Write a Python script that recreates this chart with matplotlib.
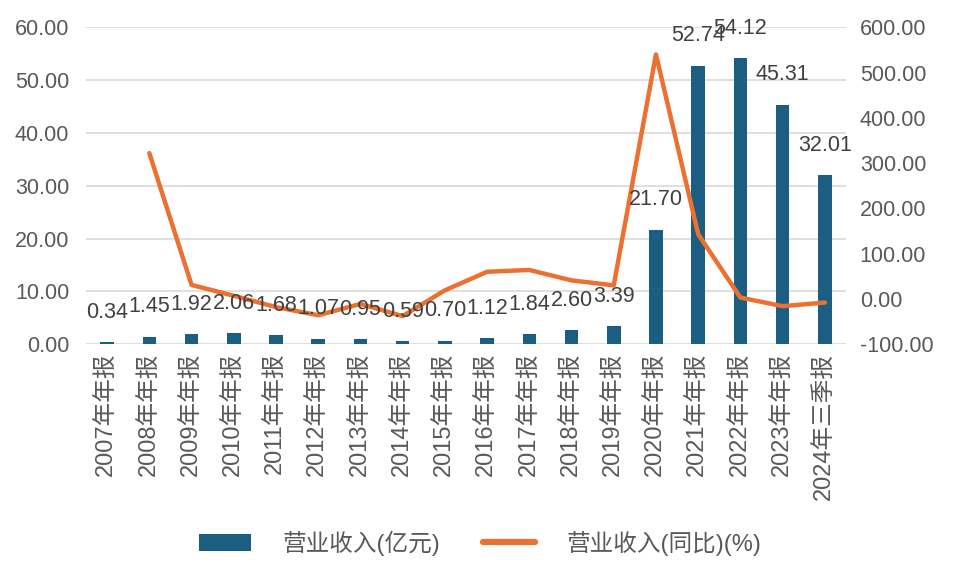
import matplotlib
matplotlib.use('Agg')
import matplotlib.pyplot as plt
import numpy as np

plt.rcParams['font.family'] = ['Liberation Sans', 'Noto Sans CJK SC', 'DejaVu Sans']

periods = ['2007年年报', '2008年年报', '2009年年报', '2010年年报', '2011年年报',
           '2012年年报', '2013年年报', '2014年年报', '2015年年报', '2016年年报',
           '2017年年报', '2018年年报', '2019年年报', '2020年年报', '2021年年报',
           '2022年年报', '2023年年报', '2024年三季报']
revenue = [0.34, 1.45, 1.92, 2.06, 1.68, 1.07, 0.95, 0.59, 0.70, 1.12,
           1.84, 2.60, 3.39, 21.70, 52.74, 54.12, 45.31, 32.01]
# 同比 (%), 2007 has no value
growth = [np.nan, 322, 31, 7, -18, -36, -11, -38, 19, 60,
          64, 41, 30, 540, 143, 3, -16, -8]

bar_color = '#1b5e82'
line_color = '#ec7131'
text_color = '#595959'

fig = plt.figure(figsize=(9.6, 5.68), dpi=100)
ax = fig.add_axes([0.0896, 0.394, 0.7916, 0.558])
ax2 = ax.twinx()

x = np.arange(len(periods))
ax.bar(x, revenue, width=0.32, color=bar_color, label='营业收入(亿元)')
ax2.plot(x, growth, color=line_color, linewidth=3.2, solid_capstyle='round',
         label='营业收入(同比)(%)')

ax.set_xlim(-0.5, len(periods) - 0.5)
ax.set_ylim(0, 60)
ax.set_yticks(np.arange(0, 61, 10))
ax.set_yticklabels(['%.2f' % v for v in np.arange(0, 61, 10)])
ax2.set_ylim(-100, 600)
ax2.set_yticks(np.arange(-100, 601, 100))
ax2.set_yticklabels(['%.2f' % v for v in np.arange(-100, 601, 100)])

ax.grid(axis='y', color='#d9d9d9', linewidth=1.2)
ax.set_axisbelow(True)
for a in (ax, ax2):
    for s in a.spines.values():
        s.set_visible(False)
    a.tick_params(axis='both', length=0, labelsize=15.5, colors=text_color)
ax.tick_params(axis='y', pad=12)
ax2.tick_params(axis='y', pad=10)

ax.set_xticks(x)
ax.set_xticklabels(periods, rotation=90, fontsize=17, color=text_color)
ax.tick_params(axis='x', pad=6)

# data labels on top so they sit over the line
for i, v in enumerate(revenue):
    ax2.annotate('%.2f' % v, xy=(i, v), xycoords=ax.transData,
                 xytext=(0, 14), textcoords='offset points',
                 ha='center', va='bottom', fontsize=15.5, color='#404040')

h1, l1 = ax.get_legend_handles_labels()
h2, l2 = ax2.get_legend_handles_labels()
leg = fig.legend(h1 + h2, l1 + l2, loc='center', bbox_to_anchor=(0.5, 0.044),
                 ncol=2, frameon=False, fontsize=17, labelcolor=text_color,
                 handlelength=2.2, columnspacing=1.8, handletextpad=1.35)
leg.get_lines()[0].set_linewidth(4.5)

plt.savefig('out.png', dpi=100)
